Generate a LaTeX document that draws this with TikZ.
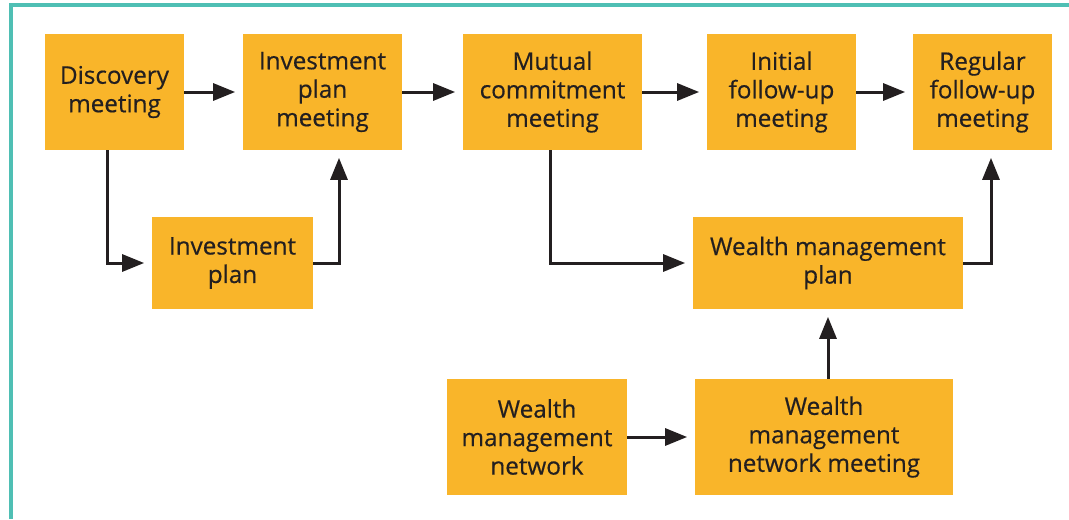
\documentclass[tikz,border=0pt]{standalone}
\usepackage{fontspec}
\setmainfont{Open Sans}
\newfontfamily\boxfont{Open Sans}[FakeBold=0.5]
\usepackage{xcolor}
\usetikzlibrary{arrows.meta,
	positioning}

\definecolor{boxfill}{HTML}{F9B52A}
\definecolor{ink}{HTML}{231F20}
\definecolor{framecol}{HTML}{4FBFB4}

\begin{document}
\begin{tikzpicture}[
        stepbox/.style={fill=boxfill, text=ink, align=center, inner sep=0pt,
            font=\boxfont\fontsize{13.8}{16.2}\selectfont},
        flow/.style={-{Triangle[length=0.44cm,width=0.34cm]}, line width=0.06cm,
            draw=ink, shorten >=0.15cm}
    ]
        \useasboundingbox (0,0) rectangle (21.38,10.38);

        %frame
        \draw [framecol, line width=0.08cm] (0.22,0)--(0.22,10.28)--(21.38,10.28);

        %top row
        \node [stepbox, minimum width=2.78cm, minimum height=2.32cm] (disc) at(2.29,8.54) {Discovery\\meeting};
        \node [stepbox, minimum width=3.18cm, minimum height=2.32cm] (ipm) at(6.45,8.54) {Investment\\plan\\meeting};
        \node [stepbox, minimum width=3.58cm, minimum height=2.32cm] (mutual) at(11.05,8.54) {Mutual\\commitment\\meeting};
        \node [stepbox, minimum width=2.98cm, minimum height=2.32cm] (initial) at(15.63,8.54) {Initial\\follow-up\\meeting};
        \node [stepbox, minimum width=2.78cm, minimum height=2.32cm] (regular) at(19.65,8.54) {Regular\\follow-up\\meeting};

        %plans
        \node [stepbox, minimum width=3.22cm, minimum height=1.84cm] (iplan) at(4.65,5.12) {Investment\\plan};
        \node [stepbox, minimum width=5.40cm, minimum height=1.84cm] (wmplan) at(16.56,5.12) {Wealth management\\plan};

        %network
        \node [stepbox, minimum width=3.60cm, minimum height=2.32cm] (wmn) at(10.74,1.64) {Wealth\\management\\network};
        \node [stepbox, minimum width=5.16cm, minimum height=2.32cm] (wmnm) at(16.48,1.64) {Wealth\\management\\network meeting};

        \draw [flow] (disc)--(ipm);
        \draw [flow] (ipm)--(mutual);
        \draw [flow] (mutual)--(initial);
        \draw [flow] (initial)--(regular);

        \draw [flow] ([xshift=-0.15cm]disc.south) |- (iplan.west);
        \draw [flow] (iplan.east) -| ([xshift=0.33cm]ipm.south);
        \draw [flow] ([xshift=-0.05cm]mutual.south) |- (wmplan.west);
        \draw [flow] (wmplan.east) -| ([xshift=0.17cm]regular.south);

        \draw [flow] (wmn)--(wmnm);
        \draw [flow] (wmplan.south |- wmnm.north)--(wmplan.south);
        
    \end{tikzpicture}
\end{document}
